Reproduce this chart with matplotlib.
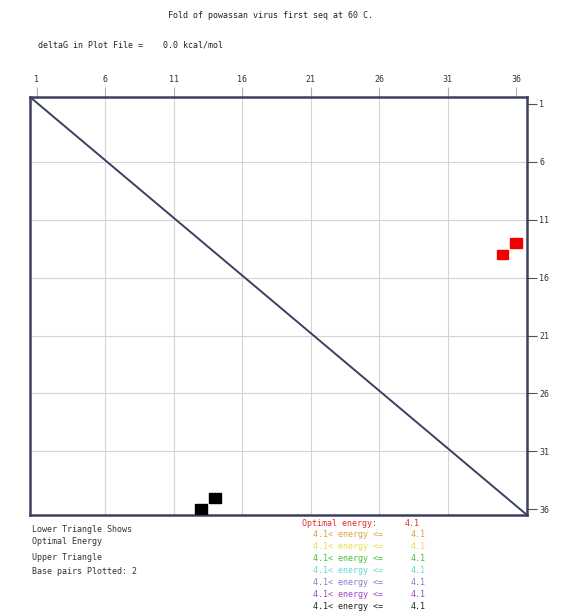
import numpy as np
import matplotlib.pyplot as plt
from matplotlib.patches import Rectangle

# sequence length and the pairs found in the fold (i, j)
seq_len = 36
pairs_i = [13, 14]
pairs_j = [36, 35]
tick_vals = [1, 6, 11, 16, 21, 26, 31, 36]

title = "Fold of powassan virus first seq at 60 C."
delta_g = 0.0
opt_energy = 4.1
level_lo = [4.1, 4.1, 4.1, 4.1, 4.1, 4.1, 4.1]
level_hi = [4.1, 4.1, 4.1, 4.1, 4.1, 4.1, 4.1]
level_colors = ['#e0a040', '#e6e24a', '#40c040', '#60d8d8', '#8878d0', '#9a48c0', '#202020']

MONO = 'DejaVu Sans Mono'
FRAME = '#3c4060'
FS = 6

fig = plt.figure(figsize=(5.69, 6.11), dpi=100)
ax = fig.add_axes([30/569, 1 - 515/611, 497/569, 418/611])
ax.set_xlim(0.5, 36.8)
ax.set_ylim(36.5, 0.4)

# grid at the labelled positions
for t in tick_vals[1:-1]:
    ax.axvline(t, color='#d4d4d4', lw=0.8, zorder=0)
    ax.axhline(t, color='#d4d4d4', lw=0.8, zorder=0)

# main diagonal
ax.plot([0.5, 36.8], [0.4, 36.5], color=FRAME, lw=1.4, zorder=2)

# lower triangle: optimal fold (black), upper triangle: plotted pairs (red)
sz = 0.85
for i, j in zip(pairs_i, pairs_j):
    ax.add_patch(Rectangle((i - sz/2, j - sz/2), sz, sz, color='black', zorder=3))
    ax.add_patch(Rectangle((j - sz/2, i - sz/2), sz, sz, color='#f00000', zorder=3))

for s in ax.spines.values():
    s.set_color(FRAME)
    s.set_linewidth(1.8)

ax.xaxis.tick_top()
ax.yaxis.tick_right()
ax.set_xticks(tick_vals)
ax.set_yticks(tick_vals)
ax.tick_params(axis='both', length=7, width=0.8, color='#b0b0b0', labelsize=FS,
               labelcolor='#333333', pad=2)
ax.tick_params(axis='y', color='#555555')
for lab in ax.get_xticklabels() + ax.get_yticklabels():
    lab.set_family(MONO)

fig.text(270/569, 1 - 15/611, title, family=MONO, fontsize=FS, color='#222222',
         ha='center', va='center')
fig.text(38/569, 1 - 45/611, "deltaG in Plot File =    %.1f kcal/mol" % delta_g,
         family=MONO, fontsize=FS, color='#222222', va='center')

left_notes = [("Lower Triangle Shows", 529), ("Optimal Energy", 541),
              ("Upper Triangle", 558), ("Base pairs Plotted: %d" % len(pairs_i), 571)]
for txt, y in left_notes:
    fig.text(32/569, 1 - y/611, txt, family=MONO, fontsize=FS, color='#333333', va='center')

fig.text(302/569, 1 - 523/611, "Optimal energy:", family=MONO, fontsize=FS,
         color='#e03030', va='center')
fig.text(405/569, 1 - 523/611, "%.1f" % opt_energy, family=MONO, fontsize=FS,
         color='#e03030', va='center')
for k, (lo, hi, c) in enumerate(zip(level_lo, level_hi, level_colors)):
    y = 534.5 + k * 12
    fig.text(313/569, 1 - y/611, "%.1f< energy <=" % lo, family=MONO, fontsize=FS,
             color=c, va='center')
    fig.text(411/569, 1 - y/611, "%.1f" % hi, family=MONO, fontsize=FS,
             color=c, va='center')

fig.savefig('out.png', dpi=100)
